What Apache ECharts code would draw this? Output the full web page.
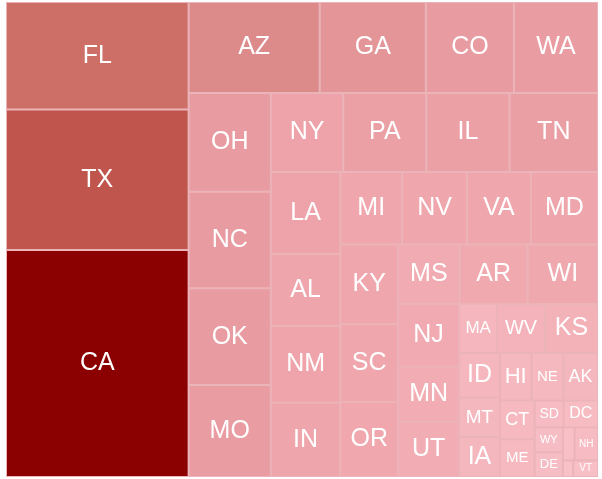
<!DOCTYPE html>
<html><head><meta charset="utf-8">
<script src="https://cdn.jsdelivr.net/npm/echarts@6/dist/echarts.min.js"></script>
<style>html,body{margin:0;padding:0;background:#fff}#c{width:602px;height:479px}</style>
</head><body><div id="c"></div>
<script>
// State codes (order follows the reference's block arrangement)
const states = ['FL','TX','CA','AZ','GA','CO','WA','OH','NC','OK','MO','NY','PA','IL','TN',
  'LA','AL','NM','IN','MI','NV','VA','MD','KY','SC','OR','MS','AR','WI','NJ','MN','UT',
  'MA','WV','KS','ID','MT','IA','HI','NE','AK','CT','ME','SD','DC','WY','DE','ND','NH','RI','VT'];
// Values estimated from block areas
const values = [195.8, 256.2, 413.6, 119.2, 96.5, 80.1, 76.4, 80.9, 79.3, 79.3, 75.5, 57.1, 65.5, 65.5, 69.7,
  56.6, 50.1, 53.3, 51.4, 44.7, 47.0, 46.2, 48.5, 45.9, 44.8, 43.2, 36.5, 40.3, 41.6, 38.2, 33.6, 33.6,
  18.7, 23.4, 26.0, 18.2, 16.0, 16.3, 15.0, 15.0, 16.5, 13.4, 13.1, 7.8, 9.2, 7.0, 7.0, 3.85, 7.7, 1.7, 4.1];

const W = 592, H = 475;
const FONT = 'Liberation Sans, Arial, sans-serif';
const total = values.reduce((a, b) => a + b, 0);

const measure = document.createElement('canvas').getContext('2d');
measure.font = '100px ' + FONT;
function emWidth(t) { return measure.measureText(t).width / 100; }

function fitSize(name, w, h) {
  const byH = 0.7 * h - 2;
  const byW = (w * 0.75) / emWidth(name) - 2;
  return Math.min(25, byH, byW);
}

function buildData(sizes) {
  return states.map((s, i) => {
    let fs;
    if (sizes && sizes[s]) {
      fs = fitSize(s, sizes[s].width, sizes[s].height);
    } else {
      const side = Math.sqrt(values[i] / total * W * H);
      fs = fitSize(s, side, side);
    }
    return {
      name: s,
      value: values[i],
      label: { show: fs >= 6.5, fontSize: Math.max(6, Math.round(fs)) }
    };
  });
}

function makeOption(data) {
  return {
    animation: false,
    series: [{
      type: 'treemap',
      left: 6, top: 2, width: W, height: H,
      sort: false,
      squareRatio: 1,
      roam: false,
      nodeClick: false,
      breadcrumb: { show: false },
      label: {
        show: true,
        position: 'inside',
        color: '#ffffff',
        fontFamily: FONT,
        padding: 0,
        overflow: 'none'
      },
      itemStyle: { borderWidth: 1, borderColor: '#ebb4b9', gapWidth: 0 },
      levels: [{
        colorMappingBy: 'value',
        color: ['#f8c0c7', '#f0a7ae', '#e79ba0', '#da8786', '#d37974', '#cb6a62',
                '#c2594f', '#b4443d', '#a62d28', '#991815', '#8b0000'],
        itemStyle: { borderWidth: 0, gapWidth: 0 }
      }],
      data: data
    }]
  };
}

const chart = echarts.init(document.getElementById('c'), null, { renderer: 'canvas' });
chart.setOption(makeOption(buildData(null)));

// Second pass: size labels to the cells the library laid out
try {
  const sData = chart.getModel().getSeriesByIndex(0).getData();
  const sizes = {};
  for (let i = 0; i < sData.count(); i++) {
    const l = sData.getItemLayout(i);
    if (l) sizes[sData.getName(i)] = l;
  }
  chart.setOption(makeOption(buildData(sizes)), true);
} catch (e) { /* keep first pass */ }
</script></body></html>
